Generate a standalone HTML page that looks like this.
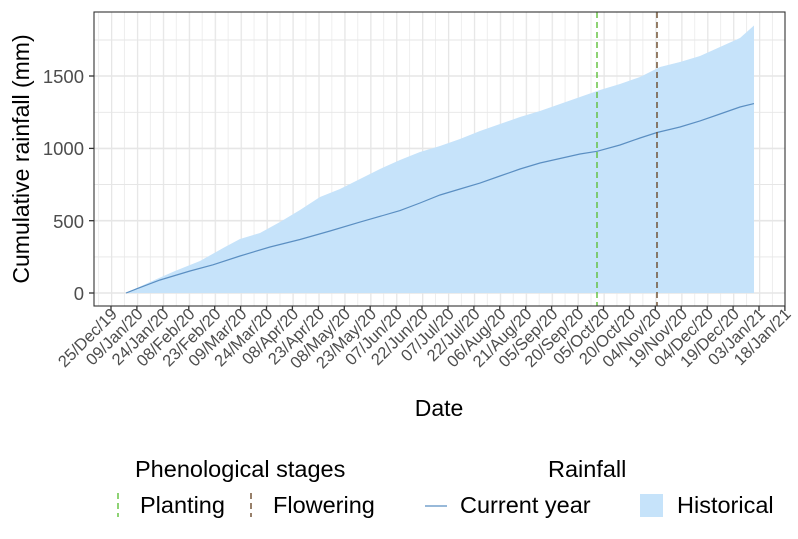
<!DOCTYPE html>
<html><head><meta charset="utf-8"><style>
body{margin:0;background:#fff}
svg{display:block;font-family:"Liberation Sans",Arial,sans-serif}
</style></head><body>
<svg width="798" height="539" viewBox="0 0 798 539" xmlns="http://www.w3.org/2000/svg">
<defs>
<pattern id="vg" patternUnits="userSpaceOnUse" x="111" y="0" width="25.92" height="600">
<line x1="0.5" y1="0" x2="0.5" y2="600" stroke="#e6e6e6" stroke-width="1.6"/>
<line x1="13.46" y1="0" x2="13.46" y2="600" stroke="#ececec" stroke-width="0.9"/>
</pattern>
<clipPath id="cp"><rect x="94" y="12" width="691" height="294"/></clipPath>
</defs>
<rect x="94" y="12" width="691" height="294" fill="#fff"/>
<g clip-path="url(#cp)">
<rect x="80" y="12" width="720" height="294" fill="url(#vg)"/>
<g stroke="#e6e6e6">
<line x1="94" x2="785" y1="256.9" y2="256.9" stroke-width="0.9"/>
<line x1="94" x2="785" y1="184.5" y2="184.5" stroke-width="0.9"/>
<line x1="94" x2="785" y1="112.3" y2="112.3" stroke-width="0.9"/>
<line x1="94" x2="785" y1="40" y2="40" stroke-width="0.9"/>
<line x1="94" x2="785" y1="293" y2="293" stroke-width="1.6"/>
<line x1="94" x2="785" y1="220.7" y2="220.7" stroke-width="1.6"/>
<line x1="94" x2="785" y1="148.4" y2="148.4" stroke-width="1.6"/>
<line x1="94" x2="785" y1="76" y2="76" stroke-width="1.6"/>
</g>
<path d="M126,293 L126,293 150,282 175,271 200,261 225,247 240,239 260,233 280,222 300,210 320,197 340,189 360,179 380,169 400,160 420,152 440,146 460,139 480,131 500,124 520,117 540,111 560,104 580,97 600,90 620,84 640,77 660,67 680,62 700,56 720,47 740,38 754,25.5 754,293 Z" fill="#c6e3fa"/>
<polyline points="126,293 137,288.7 160,280 190,271 213,264.8 240,256 270,247 300,239.5 330,231 360,222.1 400,210.6 420,203 440,195 460,189 480,183.1 500,176 520,169 540,163 560,158.5 580,154 597,151.3 620,145 640,138 657,132.5 680,127 700,120.9 720,114 740,107 754,103.6" fill="none" stroke="#5b8fc2" stroke-width="1.2"/>
<line x1="597" x2="597" y1="12" y2="306" stroke="#5fc03a" stroke-width="1.4" stroke-dasharray="6,4"/>
<line x1="657" x2="657" y1="12" y2="306" stroke="#6b4a2c" stroke-width="1.4" stroke-dasharray="6,4"/>
</g>
<rect x="94" y="12" width="691" height="294" fill="none" stroke="#333" stroke-width="1.1"/>
<g stroke="#333" stroke-width="1.3">
<line x1="89" x2="94" y1="293" y2="293"/><line x1="89" x2="94" y1="220.7" y2="220.7"/><line x1="89" x2="94" y1="148.4" y2="148.4"/><line x1="89" x2="94" y1="76" y2="76"/>
</g>
<g font-size="18.5" fill="#4d4d4d" text-anchor="end">
<text x="84" y="300">0</text><text x="84" y="228">500</text><text x="84" y="155">1000</text><text x="84" y="83">1500</text>
</g>
<text transform="translate(29,159) rotate(-90)" font-size="23" text-anchor="middle" fill="#000">Cumulative rainfall (mm)</text>
<g stroke="#333" stroke-width="1.3">
<line x1="111" x2="111" y1="306" y2="311"/><line x1="136.9" x2="136.9" y1="306" y2="311"/><line x1="162.8" x2="162.8" y1="306" y2="311"/><line x1="188.8" x2="188.8" y1="306" y2="311"/><line x1="214.7" x2="214.7" y1="306" y2="311"/><line x1="240.6" x2="240.6" y1="306" y2="311"/><line x1="266.5" x2="266.5" y1="306" y2="311"/><line x1="292.4" x2="292.4" y1="306" y2="311"/><line x1="318.4" x2="318.4" y1="306" y2="311"/><line x1="344.3" x2="344.3" y1="306" y2="311"/><line x1="370.2" x2="370.2" y1="306" y2="311"/><line x1="396.1" x2="396.1" y1="306" y2="311"/><line x1="422" x2="422" y1="306" y2="311"/><line x1="448" x2="448" y1="306" y2="311"/><line x1="473.9" x2="473.9" y1="306" y2="311"/><line x1="499.8" x2="499.8" y1="306" y2="311"/><line x1="525.7" x2="525.7" y1="306" y2="311"/><line x1="551.6" x2="551.6" y1="306" y2="311"/><line x1="577.6" x2="577.6" y1="306" y2="311"/><line x1="603.5" x2="603.5" y1="306" y2="311"/><line x1="629.4" x2="629.4" y1="306" y2="311"/><line x1="655.3" x2="655.3" y1="306" y2="311"/><line x1="681.2" x2="681.2" y1="306" y2="311"/><line x1="707.2" x2="707.2" y1="306" y2="311"/><line x1="733.1" x2="733.1" y1="306" y2="311"/><line x1="759" x2="759" y1="306" y2="311"/><line x1="784.9" x2="784.9" y1="306" y2="311"/>
</g>
<g font-size="16.5" fill="#4d4d4d" text-anchor="end">
<text transform="translate(118,315) rotate(-45)">25/Dec/19</text>
<text transform="translate(143.9,315) rotate(-45)">09/Jan/20</text>
<text transform="translate(169.8,315) rotate(-45)">24/Jan/20</text>
<text transform="translate(195.8,315) rotate(-45)">08/Feb/20</text>
<text transform="translate(221.7,315) rotate(-45)">23/Feb/20</text>
<text transform="translate(247.6,315) rotate(-45)">09/Mar/20</text>
<text transform="translate(273.5,315) rotate(-45)">24/Mar/20</text>
<text transform="translate(299.4,315) rotate(-45)">08/Apr/20</text>
<text transform="translate(325.4,315) rotate(-45)">23/Apr/20</text>
<text transform="translate(351.3,315) rotate(-45)">08/May/20</text>
<text transform="translate(377.2,315) rotate(-45)">23/May/20</text>
<text transform="translate(403.1,315) rotate(-45)">07/Jun/20</text>
<text transform="translate(429,315) rotate(-45)">22/Jun/20</text>
<text transform="translate(455,315) rotate(-45)">07/Jul/20</text>
<text transform="translate(480.9,315) rotate(-45)">22/Jul/20</text>
<text transform="translate(506.8,315) rotate(-45)">06/Aug/20</text>
<text transform="translate(532.7,315) rotate(-45)">21/Aug/20</text>
<text transform="translate(558.6,315) rotate(-45)">05/Sep/20</text>
<text transform="translate(584.6,315) rotate(-45)">20/Sep/20</text>
<text transform="translate(610.5,315) rotate(-45)">05/Oct/20</text>
<text transform="translate(636.4,315) rotate(-45)">20/Oct/20</text>
<text transform="translate(662.3,315) rotate(-45)">04/Nov/20</text>
<text transform="translate(688.2,315) rotate(-45)">19/Nov/20</text>
<text transform="translate(714.2,315) rotate(-45)">04/Dec/20</text>
<text transform="translate(740.1,315) rotate(-45)">19/Dec/20</text>
<text transform="translate(766,315) rotate(-45)">03/Jan/21</text>
<text transform="translate(791.9,315) rotate(-45)">18/Jan/21</text>
</g>
<text x="439" y="416" font-size="23" text-anchor="middle" fill="#000">Date</text>
<g font-size="23.5" fill="#000">
<text x="135" y="477">Phenological stages</text>
<text x="548" y="477">Rainfall</text>
<text x="140" y="513">Planting</text>
<text x="273" y="513">Flowering</text>
<text x="460" y="513">Current year</text>
<text x="677" y="513">Historical</text>
</g>
<line x1="118" x2="118" y1="493" y2="517" stroke="#5fc03a" stroke-width="1.4" stroke-dasharray="6,4"/>
<line x1="251" x2="251" y1="493" y2="517" stroke="#6b4a2c" stroke-width="1.4" stroke-dasharray="6,4"/>
<line x1="425" x2="447" y1="506" y2="506" stroke="#5b8fc2" stroke-width="1.2"/>
<rect x="640" y="494" width="23" height="23" fill="#c6e3fa"/>
</svg>
</body></html>
